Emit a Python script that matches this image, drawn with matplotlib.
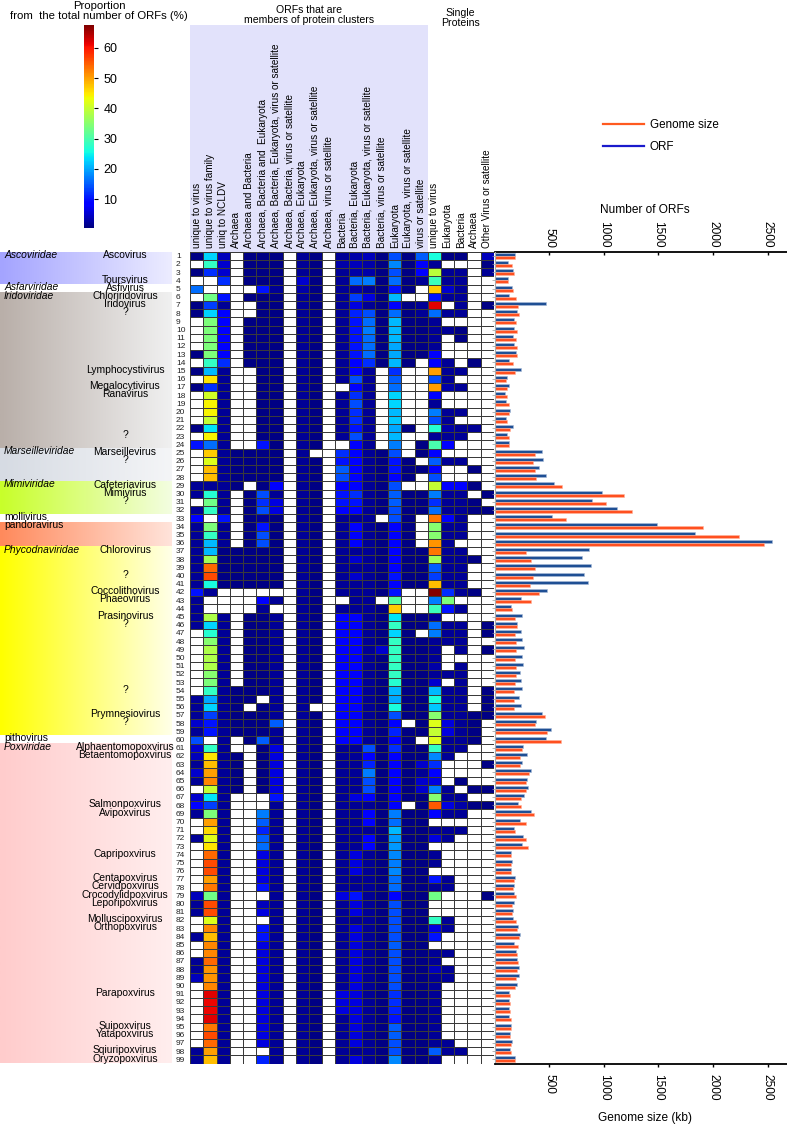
import numpy as np
import matplotlib
matplotlib.use("Agg")
import matplotlib.pyplot as plt
import matplotlib.transforms as mtransforms
from matplotlib.colors import Normalize, to_rgb
from matplotlib.lines import Line2D
from matplotlib.patches import Rectangle

plt.rcParams['font.family'] = ['Liberation Sans', 'DejaVu Sans']

# ---- column headers ----
cluster_columns = ["unique to virus", "unique to virus family", "uniq to NCLDV", "Archaea",
                   "Archaea and Bacteria", "Archaea, Bacteria and  Eukaryota",
                   "Archaea, Bacteria, Eukaryota, virus or satellite",
                   "Archaea, Bacteria, virus or satellite", "Archaea, Eukaryota",
                   "Archaea, Eukaryota, virus or satellite", "Archaea, virus or satellite",
                   "Bacteria", "Bacteria, Eukaryota", "Bacteria, Eukaryota, virus or satellite",
                   "Bacteria, virus or satellite", "Eukaryota", "Eukaryota, virus or satellite",
                   "virus or satellite"]
single_columns = ["unique to virus", "Eukaryota", "Bacteria", "Archaea", "Other Virus or satellite"]

# ---- proportion of ORFs (%) per genome, grouped by family (0 = none) ----
ascoviridae = [
    [1, 23, 4, 0, 1, 1, 1, 0, 2, 1, 0, 2, 3, 4, 1, 14, 1, 15, 26, 1, 1, 0, 4],
    [0, 28, 5, 0, 1, 1, 1, 0, 2, 1, 0, 3, 4, 3, 1, 18, 1, 8, 2, 0, 0, 0, 1],
    [1, 12, 5, 0, 1, 1, 1, 0, 2, 1, 0, 2, 3, 3, 1, 14, 1, 8, 39, 2, 2, 0, 2],
    [0, 0, 12, 0, 1, 1, 1, 0, 5, 1, 0, 2, 16, 17, 1, 16, 1, 2, 29, 2, 2, 0, 0],
]
asfarviridae = [
    [16, 0, 0, 0, 0, 10, 2, 0, 3, 1, 0, 2, 3, 2, 1, 10, 1, 0, 47, 5, 2, 0, 0],
]
iridoviridae = [
    [0, 33, 10, 0, 1, 1, 1, 0, 2, 1, 0, 2, 13, 6, 1, 21, 0, 0, 10, 2, 2, 0, 0],
    [1, 13, 2, 0, 0, 1, 1, 0, 2, 1, 0, 2, 6, 2, 1, 8, 1, 2, 62, 0, 2, 0, 1],
    [1, 23, 8, 0, 0, 1, 1, 0, 2, 1, 0, 2, 11, 14, 1, 16, 1, 2, 16, 2, 2, 0, 0],
    [0, 34, 8, 0, 1, 1, 1, 0, 2, 1, 0, 2, 10, 16, 1, 21, 1, 1, 2, 0, 0, 0, 0],
    [0, 34, 8, 0, 1, 1, 1, 0, 2, 1, 0, 2, 10, 17, 1, 21, 1, 1, 2, 2, 1, 0, 0],
    [0, 34, 8, 0, 1, 1, 1, 0, 2, 1, 0, 2, 10, 16, 1, 21, 1, 1, 2, 0, 1, 0, 0],
    [0, 34, 8, 0, 1, 1, 1, 0, 2, 1, 0, 2, 10, 16, 1, 20, 1, 1, 2, 0, 0, 0, 0],
    [1, 34, 8, 0, 1, 1, 1, 0, 2, 1, 0, 2, 10, 16, 1, 20, 1, 1, 8, 0, 0, 0, 0],
    [0, 28, 12, 0, 1, 1, 1, 0, 2, 1, 0, 2, 8, 12, 1, 21, 1, 0, 8, 2, 0, 1, 0],
    [1, 21, 2, 0, 0, 1, 1, 0, 2, 1, 0, 2, 8, 2, 0, 12, 0, 0, 50, 2, 2, 0, 0],
    [0, 45, 2, 0, 0, 1, 1, 0, 2, 1, 0, 2, 14, 2, 0, 15, 0, 0, 14, 2, 0, 0, 0],
    [1, 12, 2, 0, 0, 1, 1, 0, 2, 1, 0, 0, 8, 2, 0, 16, 0, 0, 50, 3, 2, 0, 0],
    [0, 41, 2, 0, 0, 1, 1, 0, 2, 1, 0, 2, 12, 2, 0, 23, 0, 0, 8, 0, 0, 0, 0],
    [0, 44, 2, 0, 0, 1, 1, 0, 2, 1, 0, 2, 14, 2, 0, 23, 0, 0, 2, 0, 0, 0, 0],
    [0, 44, 2, 0, 0, 1, 1, 0, 2, 1, 0, 2, 12, 2, 0, 21, 0, 0, 17, 2, 2, 0, 0],
    [0, 40, 2, 0, 0, 1, 1, 0, 2, 1, 0, 2, 12, 2, 0, 22, 0, 0, 14, 2, 0, 0, 0],
    [1, 24, 2, 0, 0, 1, 1, 0, 2, 1, 0, 2, 10, 2, 0, 20, 1, 0, 27, 3, 2, 2, 0],
    [0, 44, 2, 0, 0, 1, 1, 0, 2, 1, 0, 2, 14, 2, 0, 21, 0, 0, 2, 2, 2, 0, 0],
    [10, 16, 2, 0, 0, 10, 1, 0, 2, 1, 0, 0, 8, 2, 0, 17, 0, 1, 30, 8, 0, 0, 0],
]
marseilleviridae = [
    [0, 47, 2, 1, 1, 1, 1, 0, 2, 0, 0, 12, 8, 2, 1, 14, 0, 1, 8, 0, 0, 0, 0],
    [0, 42, 2, 1, 1, 1, 1, 0, 2, 1, 0, 10, 8, 2, 1, 10, 1, 0, 15, 2, 2, 0, 0],
    [0, 48, 2, 1, 1, 1, 1, 0, 2, 1, 0, 15, 8, 2, 1, 10, 1, 1, 8, 0, 0, 1, 0],
    [0, 48, 2, 1, 1, 1, 1, 0, 2, 1, 0, 14, 8, 2, 1, 8, 1, 0, 14, 0, 0, 0, 0],
]
mimiviridae = [
    [2, 2, 2, 1, 0, 1, 8, 0, 2, 1, 0, 8, 8, 2, 1, 14, 0, 0, 40, 8, 8, 1, 0],
    [2, 27, 2, 0, 1, 14, 2, 0, 2, 1, 0, 10, 12, 2, 1, 15, 1, 1, 17, 2, 2, 0, 1],
    [0, 33, 2, 0, 1, 12, 6, 0, 2, 1, 0, 10, 10, 2, 1, 15, 1, 1, 12, 2, 2, 1, 0],
    [2, 28, 2, 0, 1, 14, 6, 0, 2, 1, 0, 8, 8, 2, 1, 14, 1, 1, 16, 2, 2, 1, 1],
]
mollivirus = [
    [8, 0, 10, 0, 1, 2, 1, 0, 2, 1, 0, 2, 2, 2, 0, 14, 1, 0, 53, 8, 2, 0, 0],
]
pandoravirus = [
    [2, 34, 2, 0, 1, 10, 1, 0, 2, 1, 0, 2, 8, 2, 1, 8, 1, 0, 35, 2, 2, 0, 0],
    [2, 28, 2, 0, 1, 14, 1, 0, 2, 1, 0, 2, 8, 2, 1, 8, 1, 0, 35, 2, 2, 0, 0],
    [2, 21, 2, 0, 1, 14, 1, 0, 2, 1, 0, 2, 8, 2, 1, 8, 1, 0, 51, 2, 0, 0, 0],
]
phycodnaviridae = [
    [2, 21, 1, 1, 1, 1, 1, 0, 2, 1, 0, 2, 2, 2, 1, 8, 1, 1, 53, 2, 2, 0, 0],
    [2, 37, 1, 1, 1, 1, 1, 0, 2, 1, 0, 2, 5, 2, 1, 8, 1, 1, 37, 2, 2, 1, 0],
    [2, 54, 1, 1, 1, 1, 1, 0, 2, 1, 0, 2, 2, 2, 1, 8, 1, 1, 15, 2, 2, 0, 0],
    [2, 56, 1, 1, 1, 1, 1, 0, 2, 1, 0, 2, 5, 2, 1, 10, 1, 1, 13, 2, 2, 0, 0],
    [2, 26, 1, 1, 1, 1, 1, 0, 2, 1, 0, 2, 2, 2, 1, 8, 1, 1, 48, 2, 2, 0, 0],
    [10, 2, 0, 0, 0, 0, 0, 0, 2, 1, 0, 2, 2, 2, 1, 10, 0, 0, 67, 12, 2, 1, 0],
    [2, 0, 0, 0, 0, 8, 2, 0, 2, 1, 0, 0, 2, 2, 0, 31, 0, 0, 17, 34, 0, 0, 0],
    [2, 0, 0, 0, 0, 2, 0, 0, 2, 1, 0, 2, 2, 2, 1, 47, 0, 0, 29, 10, 2, 0, 0],
    [2, 38, 2, 0, 1, 1, 2, 0, 2, 1, 0, 8, 8, 2, 1, 24, 1, 1, 2, 0, 0, 0, 0],
    [2, 23, 2, 0, 1, 1, 2, 0, 2, 1, 0, 8, 8, 2, 1, 28, 1, 1, 16, 2, 2, 0, 1],
    [0, 27, 2, 0, 1, 1, 2, 0, 2, 1, 0, 8, 8, 2, 1, 23, 1, 0, 17, 2, 2, 0, 1],
    [0, 35, 2, 0, 1, 1, 2, 0, 2, 1, 0, 8, 8, 2, 1, 28, 1, 1, 2, 2, 2, 0, 0],
    [0, 38, 2, 0, 1, 1, 2, 0, 2, 1, 0, 8, 8, 2, 5, 28, 1, 1, 2, 0, 2, 0, 1],
    [0, 38, 2, 0, 1, 1, 2, 0, 2, 1, 0, 8, 8, 2, 1, 28, 1, 1, 2, 0, 0, 0, 0],
    [0, 38, 2, 0, 1, 1, 2, 0, 2, 1, 0, 8, 8, 2, 1, 28, 1, 1, 3, 0, 2, 0, 0],
    [0, 35, 2, 0, 1, 1, 2, 0, 2, 1, 0, 8, 8, 2, 1, 28, 1, 1, 2, 2, 2, 0, 0],
    [0, 34, 2, 0, 1, 1, 2, 0, 2, 1, 0, 8, 8, 2, 1, 27, 1, 1, 5, 0, 2, 0, 0],
    [0, 28, 2, 1, 1, 1, 2, 0, 2, 1, 0, 8, 8, 2, 1, 21, 1, 1, 21, 2, 2, 0, 1],
    [2, 20, 2, 1, 1, 0, 2, 0, 2, 1, 0, 8, 8, 2, 1, 20, 1, 1, 26, 2, 2, 0, 1],
    [2, 23, 2, 1, 0, 1, 2, 0, 2, 0, 0, 8, 8, 2, 1, 26, 1, 1, 22, 2, 2, 0, 1],
    [2, 13, 2, 1, 1, 1, 2, 0, 2, 1, 0, 8, 8, 2, 1, 14, 1, 1, 35, 2, 2, 1, 1],
    [5, 10, 2, 1, 1, 1, 15, 0, 2, 1, 0, 8, 8, 2, 1, 8, 0, 1, 42, 6, 2, 1, 0],
    [2, 10, 2, 1, 1, 1, 2, 0, 2, 1, 0, 8, 8, 2, 1, 11, 1, 1, 40, 6, 2, 1, 0],
]
pithovirus = [
    [14, 0, 2, 0, 1, 15, 2, 0, 2, 1, 0, 8, 8, 2, 1, 8, 1, 0, 42, 2, 2, 1, 0],
]
poxviridae = [
    [5, 28, 2, 0, 0, 1, 6, 0, 2, 1, 0, 2, 2, 14, 1, 12, 1, 1, 28, 2, 2, 0, 0],
    [4, 45, 2, 1, 0, 1, 6, 0, 2, 1, 0, 2, 2, 8, 1, 8, 1, 1, 18, 2, 0, 0, 0],
    [2, 48, 2, 1, 0, 1, 6, 0, 2, 1, 0, 2, 2, 11, 1, 8, 1, 5, 12, 0, 0, 0, 1],
    [5, 50, 2, 1, 0, 1, 6, 0, 2, 1, 0, 2, 2, 17, 1, 8, 1, 2, 8, 0, 0, 0, 0],
    [2, 52, 2, 1, 0, 1, 6, 0, 2, 1, 0, 2, 2, 14, 1, 8, 1, 5, 6, 0, 1, 0, 0],
    [0, 40, 2, 1, 0, 1, 6, 0, 2, 1, 0, 2, 2, 14, 1, 8, 1, 5, 17, 2, 0, 1, 1],
    [5, 24, 2, 0, 0, 0, 10, 0, 2, 1, 0, 2, 6, 8, 1, 8, 1, 1, 35, 2, 2, 0, 0],
    [9, 13, 2, 0, 0, 0, 2, 0, 2, 1, 0, 2, 2, 2, 1, 8, 0, 1, 55, 6, 3, 1, 1],
    [2, 34, 2, 0, 0, 17, 2, 0, 2, 1, 0, 2, 2, 8, 1, 17, 1, 1, 8, 2, 2, 0, 0],
    [0, 50, 2, 0, 0, 15, 2, 0, 2, 1, 0, 2, 2, 8, 1, 16, 1, 1, 0, 0, 0, 0, 0],
    [0, 46, 2, 0, 0, 11, 2, 0, 2, 1, 0, 2, 2, 2, 1, 21, 1, 1, 2, 2, 2, 0, 0],
    [2, 42, 2, 0, 0, 15, 2, 0, 2, 1, 0, 2, 2, 8, 1, 19, 1, 1, 6, 2, 0, 0, 0],
    [0, 45, 2, 0, 0, 16, 2, 0, 2, 1, 0, 2, 2, 8, 1, 19, 1, 1, 0, 0, 0, 0, 0],
    [0, 54, 2, 0, 0, 6, 2, 0, 2, 1, 0, 2, 6, 2, 1, 18, 1, 1, 2, 0, 0, 0, 0],
    [0, 56, 2, 0, 0, 6, 2, 0, 2, 1, 0, 2, 6, 2, 1, 17, 1, 1, 2, 0, 0, 0, 0],
    [0, 56, 2, 0, 0, 6, 2, 0, 2, 1, 0, 2, 6, 2, 1, 18, 1, 1, 0, 0, 0, 0, 0],
    [0, 50, 2, 0, 0, 6, 2, 0, 2, 1, 0, 2, 2, 2, 1, 16, 1, 1, 10, 2, 0, 0, 0],
    [0, 53, 2, 0, 0, 10, 2, 0, 2, 1, 0, 2, 2, 2, 1, 16, 1, 1, 2, 2, 0, 0, 0],
    [4, 33, 2, 0, 0, 0, 2, 0, 2, 1, 0, 6, 10, 2, 1, 9, 1, 1, 33, 0, 0, 0, 1],
    [2, 56, 2, 0, 0, 4, 2, 0, 2, 1, 0, 2, 6, 2, 1, 14, 1, 1, 0, 0, 0, 0, 0],
    [2, 56, 2, 0, 0, 6, 2, 0, 2, 1, 0, 2, 6, 2, 1, 14, 1, 1, 0, 0, 0, 0, 0],
    [0, 42, 2, 0, 0, 0, 2, 0, 2, 1, 0, 2, 2, 2, 1, 14, 1, 1, 28, 2, 0, 0, 0],
    [0, 52, 2, 0, 0, 10, 2, 0, 2, 1, 0, 2, 6, 2, 1, 14, 1, 1, 6, 2, 0, 0, 0],
    [2, 48, 2, 0, 0, 10, 2, 0, 2, 1, 0, 2, 6, 2, 1, 14, 1, 1, 10, 0, 0, 0, 0],
    [0, 52, 2, 0, 0, 6, 2, 0, 2, 1, 0, 2, 6, 2, 1, 15, 1, 1, 0, 0, 0, 0, 0],
    [0, 52, 2, 0, 0, 6, 2, 0, 2, 1, 0, 2, 6, 2, 1, 14, 1, 1, 2, 2, 0, 0, 0],
    [2, 54, 2, 0, 0, 6, 2, 0, 2, 1, 0, 2, 6, 2, 1, 14, 1, 1, 2, 0, 0, 0, 0],
    [2, 51, 2, 0, 0, 6, 2, 0, 2, 1, 0, 2, 6, 2, 1, 14, 1, 1, 4, 2, 0, 0, 0],
    [4, 51, 2, 0, 0, 6, 2, 0, 2, 1, 0, 2, 6, 2, 1, 14, 1, 1, 2, 2, 0, 0, 0],
    [0, 52, 2, 0, 0, 6, 2, 0, 2, 1, 0, 2, 6, 2, 1, 14, 1, 1, 2, 0, 0, 0, 0],
    [0, 62, 2, 0, 0, 6, 2, 0, 2, 1, 0, 6, 6, 2, 1, 12, 1, 1, 2, 0, 0, 0, 0],
    [0, 61, 2, 0, 0, 6, 2, 0, 2, 1, 0, 6, 6, 2, 1, 12, 1, 1, 2, 0, 0, 0, 0],
    [0, 61, 2, 0, 0, 6, 2, 0, 2, 1, 0, 6, 6, 2, 1, 11, 1, 1, 2, 0, 0, 0, 0],
    [0, 62, 2, 0, 0, 6, 2, 0, 2, 1, 0, 2, 6, 2, 1, 10, 1, 1, 2, 0, 0, 0, 0],
    [0, 53, 2, 0, 0, 6, 2, 0, 2, 1, 0, 2, 6, 2, 1, 15, 1, 1, 2, 0, 0, 0, 0],
    [0, 56, 2, 0, 0, 6, 2, 0, 2, 1, 0, 2, 6, 2, 1, 15, 1, 1, 2, 0, 0, 0, 0],
    [0, 54, 2, 0, 0, 6, 2, 0, 2, 1, 0, 2, 6, 2, 1, 14, 1, 1, 2, 2, 0, 0, 0],
    [2, 50, 2, 0, 0, 0, 2, 0, 2, 1, 0, 2, 2, 2, 1, 14, 1, 1, 15, 2, 2, 0, 0],
    [2, 48, 2, 0, 0, 11, 2, 0, 2, 1, 0, 2, 6, 2, 1, 18, 1, 1, 2, 0, 0, 0, 0],
]

family_names = ["Ascoviridae", "Asfarviridae", "Iridoviridae", "Marseilleviridae", "Mimiviridae",
                "mollivirus", "pandoravirus", "Phycodnaviridae", "pithovirus", "Poxviridae"]
family_data = [ascoviridae, asfarviridae, iridoviridae, marseilleviridae, mimiviridae,
               mollivirus, pandoravirus, phycodnaviridae, pithovirus, poxviridae]

# genus name -> genome row it labels
genus_names = ["Ascovirus", "Toursvirus", "Asfivirus", "Chloriridovirus", "Iridovirus", "?",
               "Lymphocystivirus", "Megalocytivirus", "Ranavirus", "?", "Marseillevirus", "?",
               "Cafeteriavirus", "Mimivirus", "?", "Chlorovirus", "?", "Coccolithovirus",
               "Phaeovirus", "Prasinovirus", "?", "?", "Prymnesiovirus", "?",
               "Alphaentomopoxvirus", "Betaentomopoxvirus", "Salmonpoxvirus", "Avipoxvirus",
               "Capripoxvirus", "Centapoxvirus", "Cervidpoxvirus", "Crocodylidpoxvirus",
               "Leporipoxvirus", "Molluscipoxvirus", "Orthopoxvirus", "Parapoxvirus",
               "Suipoxvirus", "Yatapoxvirus", "Sqiuripoxvirus", "Oryzopoxvirus"]
genus_rows = [1, 4, 5, 6, 7, 8, 15, 17, 18, 23, 25, 26, 29, 30, 31, 37, 40, 42, 43, 45, 46, 54,
              57, 58, 61, 62, 68, 69, 74, 77, 78, 79, 80, 82, 83, 91, 95, 96, 98, 99]

orf_counts = [186, 125, 165, 122, 156, 131, 470, 204, 180, 180,
              171, 180, 195, 131, 241, 110, 128, 98, 104, 140,
              104, 165, 113, 131, 430, 446, 406, 473, 543, 980,
              894, 1120, 525, 1484, 1835, 2537, 861, 800, 885, 818,
              852, 476, 241, 150, 250, 204, 244, 253, 272, 247,
              256, 232, 238, 250, 226, 238, 436, 375, 513, 470,
              262, 296, 250, 336, 299, 305, 269, 214, 330, 229,
              177, 262, 247, 153, 159, 150, 186, 174, 177, 174,
              171, 168, 211, 235, 177, 195, 208, 226, 223, 201,
              134, 131, 131, 134, 150, 140, 156, 143, 186]
genome_kb = [189, 159, 177, 122, 171, 195, 217, 223, 198, 201,
             198, 204, 207, 165, 189, 104, 113, 110, 128, 131,
             110, 143, 128, 128, 369, 351, 369, 375, 617, 1181,
             1020, 1258, 653, 1905, 2238, 2466, 287, 333, 369, 348,
             324, 409, 336, 156, 189, 201, 186, 195, 195, 186,
             195, 192, 186, 180, 174, 174, 461, 372, 476, 610,
             250, 235, 232, 311, 284, 284, 238, 241, 360, 284,
             189, 290, 308, 153, 153, 153, 177, 171, 192, 162,
             162, 192, 207, 226, 211, 201, 217, 201, 195, 189,
             137, 140, 140, 147, 147, 140, 150, 150, 186]

# background gradients of the family bands (left colour, right colour)
band_colors = {
    "Ascoviridae": ("#a4a4ff", "#ececff"),
    "Iridoviridae": ("#b9afa9", "#f0f0f0"),
    "Marseilleviridae": ("#d6dbe3", "#f4f5f7"),
    "Mimiviridae": ("#c8ff2a", "#f3fde0"),
    "pandoravirus": ("#ff8a5c", "#ffe3da"),
    "Phycodnaviridae": ("#ffff00", "#ffffe6"),
    "Poxviridae": ("#ffcccc", "#ffeeee"),
}

# ------------------------------------------------------------------
W, H = 787, 1125
fig = plt.figure(figsize=(W / 100, H / 100), dpi=100)

top_px, bot_px = 251.7, 1063.5
ax_b0 = 1 - bot_px / H
ax_h0 = (bot_px - top_px) / H

data = np.array([row for fam in family_data for row in fam], dtype=float)
n_rows, n_cols = data.shape
rows = np.arange(1, n_rows + 1)

cmap = plt.get_cmap('jet').copy()
cmap.set_bad('white')
norm = Normalize(vmin=0.5, vmax=67.5)

# heatmap
ax_h = fig.add_axes([190.1 / W, ax_b0, 303.6 / W, ax_h0])
mesh = ax_h.pcolormesh(np.arange(n_cols + 1) - 0.5, np.arange(n_rows + 1) + 0.5,
                       np.ma.masked_equal(data, 0), cmap=cmap, norm=norm,
                       edgecolors='#3a3a3a', linewidth=0.45)
ax_h.set_xlim(-0.5, n_cols - 0.5)
ax_h.set_ylim(n_rows + 0.5, 0.5)
ax_h.set_xticks(np.arange(n_cols))
ax_h.set_xticklabels(cluster_columns + single_columns, rotation=90, fontsize=7.2)
ax_h.xaxis.tick_top()
ax_h.tick_params(axis='x', length=0, pad=3)
ax_h.set_yticks([])
for s in ax_h.spines.values():
    s.set_visible(False)

blend = mtransforms.blended_transform_factory(ax_h.transData, fig.transFigure)
nc = len(cluster_columns)
ax_h.add_patch(Rectangle((-0.5, 1 - top_px / H), nc, (top_px - 25) / H, transform=blend,
                         facecolor='#e2e2fb', edgecolor='none', clip_on=False, zorder=-5))
ax_h.text((nc - 1) / 2, 1 - 15 / H, "ORFs that are\nmembers of protein clusters", transform=blend,
          ha='center', va='center', fontsize=7.6, linespacing=0.9)
ax_h.text(nc + (len(single_columns) - 1) / 2, 1 - 18 / H, "Single\nProteins", transform=blend,
          ha='center', va='center', fontsize=7.6, linespacing=0.9)

# colour bar
cax = fig.add_axes([84.3 / W, 1 - 228 / H, 10 / W, 203 / H])
cb = fig.colorbar(mesh, cax=cax, ticks=[10, 20, 30, 40, 50, 60])
cb.outline.set_visible(False)
cb.ax.tick_params(labelsize=9, length=3, width=0.8)
fig.text(99 / W, 1 - 11 / H, "Proportion\nfrom  the total number of ORFs (%)",
         ha='center', va='center', fontsize=8.2, linespacing=0.95)

# left panel: family bands, names, genus names, row numbers
ax_l = fig.add_axes([0, ax_b0, 190 / W, ax_h0])
ax_l.axis('off')
start = 1
for name, fam in zip(family_names, family_data):
    end = start + len(fam) - 1
    if name in band_colors:
        c0, c1 = (np.array(to_rgb(c)) for c in band_colors[name])
        grad = np.linspace(c0, c1, 64)[None, :, :]
        ax_l.imshow(grad, extent=[0, 172, end + 0.5, start - 0.5], aspect='auto',
                    interpolation='bilinear', zorder=0)
    ax_l.text(4, start - 0.15, name, ha='left', va='center', fontsize=7.4,
              style='italic' if name.endswith('viridae') else 'normal', zorder=3)
    start = end + 1
for g, r in zip(genus_names, genus_rows):
    ax_l.text(125, r - 0.1, g, ha='center', va='center', fontsize=7.4, zorder=3)
for r in rows:
    ax_l.text(176, r + 0.1, str(r), ha='left', va='center', fontsize=6, color='#222222')
ax_l.set_xlim(0, 190)
ax_l.set_ylim(n_rows + 0.5, 0.5)

# bar panel
ax_r = fig.add_axes([494.7 / W, ax_b0, 292.3 / W, ax_h0])
ax_r.barh(rows - 0.18, orf_counts, height=0.36, color='#1f4f94',
          edgecolor='#a9bcd8', linewidth=0.4)
ax_r.barh(rows + 0.18, genome_kb, height=0.36, color='#ff5020',
          edgecolor='#ffb49c', linewidth=0.4)
ax_r.set_xlim(0, 2677)
ax_r.set_ylim(n_rows + 0.5, 0.5)
ticks = [500, 1000, 1500, 2000, 2500]
ax_r.set_xticks(ticks)
ax_r.tick_params(axis='x', direction='out', length=2.5, width=1, labelsize=8.6,
                 labelrotation=270, pad=5)
ax_r.set_yticks(rows)
ax_r.set_yticklabels([])
ax_r.tick_params(axis='y', length=2, width=0.5, color='#999999')
ax_r.spines['right'].set_visible(False)
ax_r.spines['top'].set_visible(False)
ax_r.spines['left'].set_color('#aaaaaa')
ax_r.spines['left'].set_linewidth(0.8)
ax_r.spines['bottom'].set_linewidth(1.3)
sec = ax_r.secondary_xaxis('top')
sec.set_xticks(ticks)
sec.tick_params(axis='x', direction='in', length=2.5, width=1, labelsize=8.6,
                labelrotation=270, pad=3)
sec.spines['top'].set_linewidth(1.3)
ax_r.text(0.514, 1.0514, "Number of ORFs", transform=ax_r.transAxes, ha='center',
          va='center', fontsize=8.6)
ax_r.text(0.514, -0.067, "Genome size (kb)", transform=ax_r.transAxes, ha='center',
          va='center', fontsize=8.6)

handles = [Line2D([], [], color='#ff5a1f', lw=1.6), Line2D([], [], color='#1a1acc', lw=1.6)]
fig.legend(handles, ["Genome size", "ORF"], loc='upper left',
           bbox_to_anchor=(603 / W, 1 - 119 / H), frameon=False, fontsize=8.4,
           handlelength=3.5, handletextpad=0.5, labelspacing=0.9, borderpad=0,
           borderaxespad=0)

fig.savefig("out.png", dpi=100)
